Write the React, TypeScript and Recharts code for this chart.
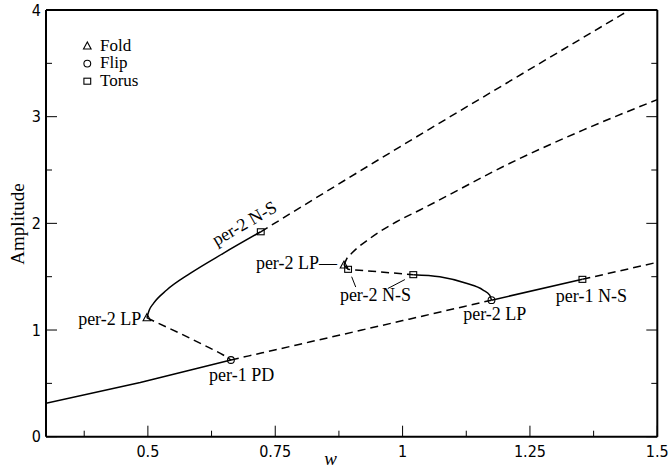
import React from 'react';
import {
  ComposedChart,
  Line,
  Scatter,
  XAxis,
  YAxis,
  ReferenceDot,
  ReferenceLine,
  Legend,
} from 'recharts';

// ---- axes ----
const X_DOMAIN: [number, number] = [0.3, 1.5];
const Y_DOMAIN: [number, number] = [0, 4];
const X_TICKS = [0.375, 0.5, 0.625, 0.75, 0.875, 1, 1.125, 1.25, 1.375, 1.5];
const X_LABELED = [0.5, 0.75, 1, 1.25, 1.5];
const Y_TICKS = [0, 0.5, 1, 1.5, 2, 2.5, 3, 3.5, 4];
const Y_LABELED = [0, 1, 2, 3, 4];

// ---- per-1 branch ----
const per1StableLow = [
  { w: 0.3, a: 0.313 },
  { w: 0.485, a: 0.508 },
  { w: 0.663, a: 0.719 },
];
const per1UnstableMid = [
  { w: 0.663, a: 0.719 },
  { w: 0.92, a: 1.0 },
  { w: 1.1745, a: 1.28 },
];
const per1StableHigh = [
  { w: 1.1745, a: 1.28 },
  { w: 1.353, a: 1.475 },
];
const per1UnstableHigh = [
  { w: 1.353, a: 1.475 },
  { w: 1.5, a: 1.635 },
];

// ---- per-2 branches ----
const per2UnstableLow = [
  { w: 0.498, a: 1.115 },
  { w: 0.514, a: 1.078 },
  { w: 0.563, a: 0.969 },
  { w: 0.616, a: 0.844 },
  { w: 0.648, a: 0.766 },
  { w: 0.663, a: 0.719 },
];
const per2StableLeft = [
  { w: 0.498, a: 1.115 },
  { w: 0.503, a: 1.19 },
  { w: 0.511, a: 1.25 },
  { w: 0.537, a: 1.375 },
  { w: 0.583, a: 1.531 },
  { w: 0.648, a: 1.719 },
  { w: 0.7216, a: 1.921 },
];
const per2UnstableTop = [
  { w: 0.7216, a: 1.921 },
  { w: 0.961, a: 2.62 },
  { w: 1.2235, a: 3.37 },
  { w: 1.4457, a: 4.0 },
];
const per2UnstableUpper = [
  { w: 0.885, a: 1.609 },
  { w: 0.89, a: 1.665 },
  { w: 0.9, a: 1.719 },
  { w: 0.936, a: 1.859 },
  { w: 0.988, a: 2.015 },
  { w: 1.034, a: 2.125 },
  { w: 1.2235, a: 2.593 },
  { w: 1.354, a: 2.874 },
  { w: 1.5, a: 3.16 },
];
const per2UnstableInner = [
  { w: 0.885, a: 1.609 },
  { w: 0.893, a: 1.569 },
  { w: 1.021, a: 1.519 },
];
const per2StableRight = [
  { w: 1.021, a: 1.519 },
  { w: 1.073, a: 1.4995 },
  { w: 1.125, a: 1.438 },
  { w: 1.158, a: 1.375 },
  { w: 1.171, a: 1.327 },
  { w: 1.1745, a: 1.28 },
];

// ---- bifurcation markers ----
const FOLD = [
  { w: 0.498, a: 1.115 },
  { w: 0.885, a: 1.609 },
];
const FLIP = [
  { w: 0.663, a: 0.719 },
  { w: 1.1745, a: 1.28 },
];
const TORUS = [
  { w: 0.7216, a: 1.921 },
  { w: 0.893, a: 1.569 },
  { w: 1.021, a: 1.519 },
  { w: 1.353, a: 1.475 },
];

const LEGEND_ITEMS = [
  { kind: 'fold', label: 'Fold' },
  { kind: 'flip', label: 'Flip' },
  { kind: 'torus', label: 'Torus' },
];

// ---- annotations ----
const ANNOTATIONS = [
  { text: 'per-2 N-S', w: 0.689, a: 2.003, anchor: 'middle', angle: -30 },
  { text: 'per-2 LP', w: 0.487, a: 1.103, anchor: 'end', angle: 0 },
  { text: 'per-1 PD', w: 0.684, a: 0.578, anchor: 'middle', angle: 0 },
  { text: 'per-2 LP\u2014', w: 0.712, a: 1.628, anchor: 'start', angle: 0 },
  { text: 'per-2 N-S', w: 0.9467, a: 1.328, anchor: 'middle', angle: 0 },
  { text: 'per-2 LP', w: 1.181, a: 1.15, anchor: 'middle', angle: 0 },
  { text: 'per-1 N-S', w: 1.3706, a: 1.319, anchor: 'middle', angle: 0 },
];
const LEADERS = [
  [
    { w: 0.9, a: 1.5 },
    { w: 0.908, a: 1.403 },
  ],
  [
    { w: 1.0045, a: 1.473 },
    { w: 0.971, a: 1.389 },
  ],
];

const SERIF = '"Liberation Serif", "Times New Roman", serif';
const SANS = '"DejaVu Sans Condensed", "DejaVu Sans", sans-serif';
const DASH = '8 5';

function Marker({ kind, cx, cy }: { kind: string; cx: number; cy: number }) {
  const common = { stroke: '#000', strokeWidth: 1.1, fill: 'none' };
  if (kind === 'fold') {
    return (
      <polygon
        points={`${cx},${cy - 4} ${cx - 3.8},${cy + 3} ${cx + 3.8},${cy + 3}`}
        {...common}
      />
    );
  }
  if (kind === 'flip') {
    return <circle cx={cx} cy={cy} r={3.4} {...common} />;
  }
  return <rect x={cx - 3.4} y={cy - 3} width={6.8} height={6} {...common} />;
}

const tickLen = (v: number, majors: number[]) => (majors.includes(v) ? 11 : 6);

function makeTick(side: 'bottom' | 'top' | 'left' | 'right') {
  return (props: any) => {
    const { x, y, payload } = props;
    const v = payload.value as number;
    const majors = side === 'bottom' || side === 'top' ? X_LABELED : Y_LABELED;
    const len = tickLen(v, majors);
    const major = majors.includes(v);
    let line;
    if (side === 'bottom') line = <line x1={x} x2={x} y1={y} y2={y - len} />;
    else if (side === 'top') line = <line x1={x} x2={x} y1={y} y2={y + len} />;
    else if (side === 'left') line = <line x1={x} x2={x + len} y1={y} y2={y} />;
    else line = <line x1={x} x2={x - len} y1={y} y2={y} />;
    return (
      <g>
        <g stroke="#000" strokeWidth={1}>{line}</g>
        {major && side === 'bottom' && (
          <text x={x} y={y + 20} textAnchor="middle" fontFamily={SANS} fontSize={16} fill="#000">
            {String(v)}
          </text>
        )}
        {major && side === 'left' && (
          <text x={x - 5} y={y} dy="0.36em" textAnchor="end" fontFamily={SANS} fontSize={16} fill="#000">
            {String(v)}
          </text>
        )}
      </g>
    );
  };
}

function LegendBox() {
  return (
    <svg width={200} height={100} style={{ display: 'block' }}>
      {LEGEND_ITEMS.map((item, i) => (
        <g key={item.kind}>
          <Marker kind={item.kind} cx={87.3} cy={46 + i * 17.6} />
          <text x={100} y={51 + i * 17.4} fontFamily={SERIF} fontSize={17} fill="#000">
            {item.label}
          </text>
        </g>
      ))}
    </svg>
  );
}

const lineProps = {
  dataKey: 'a',
  stroke: '#000',
  strokeWidth: 1.5,
  dot: false,
  activeDot: false,
  isAnimationActive: false,
  legendType: 'none' as const,
};

const axisLine = { stroke: '#000', strokeWidth: 2 };

export default function App() {
  return (
    <div style={{ position: 'absolute', left: 0, top: 0, width: 670, height: 468, background: '#fff' }}>
      <ComposedChart width={670} height={468} margin={{ top: 0, right: 0, bottom: 0, left: 0 }}>
        <XAxis
          dataKey="w"
          type="number"
          domain={X_DOMAIN}
          ticks={X_TICKS}
          interval={0}
          allowDataOverflow
          height={31.3}
          tickSize={0}
          tickMargin={0}
          tickLine={false}
          axisLine={axisLine}
          tick={makeTick('bottom')}
          label={{
            content: (p: any) => {
              const vb = p.viewBox || {};
              return (
                <text
                  x={vb.x + vb.width / 2 - 21}
                  y={465}
                  textAnchor="middle"
                  fontFamily={SERIF}
                  fontStyle="italic"
                  fontSize={19}
                  fill="#000"
                >
                  w
                </text>
              );
            },
          }}
        />
        <XAxis
          xAxisId="top"
          orientation="top"
          type="number"
          domain={X_DOMAIN}
          ticks={X_TICKS}
          interval={0}
          allowDataOverflow
          height={10}
          tickSize={0}
          tickMargin={0}
          tickLine={false}
          axisLine={axisLine}
          tick={makeTick('top')}
        />
        <YAxis
          type="number"
          domain={Y_DOMAIN}
          ticks={Y_TICKS}
          interval={0}
          allowDataOverflow
          width={46}
          tickSize={0}
          tickMargin={0}
          tickLine={false}
          axisLine={axisLine}
          tick={makeTick('left')}
          label={{
            content: (p: any) => {
              const cx = 17;
              const cy = 224;
              return (
                <text
                  x={cx}
                  y={cy}
                  transform={`rotate(-90, ${cx}, ${cy})`}
                  textAnchor="middle"
                  dy="0.35em"
                  fontFamily={SERIF}
                  fontSize={19}
                  fill="#000"
                >
                  Amplitude
                </text>
              );
            },
          }}
        />
        <YAxis
          yAxisId="right"
          orientation="right"
          type="number"
          domain={Y_DOMAIN}
          ticks={Y_TICKS}
          interval={0}
          allowDataOverflow
          width={12.7}
          tickSize={0}
          tickMargin={0}
          tickLine={false}
          axisLine={axisLine}
          tick={makeTick('right')}
        />

        <Line {...lineProps} data={per1StableLow} type="linear" />
        <Line {...lineProps} data={per1UnstableMid} type="monotone" strokeDasharray={DASH} />
        <Line {...lineProps} data={per1StableHigh} type="linear" />
        <Line {...lineProps} data={per1UnstableHigh} type="linear" strokeDasharray={DASH} />

        <Line {...lineProps} data={per2UnstableLow} type="monotone" strokeDasharray={DASH} />
        <Line {...lineProps} data={per2StableLeft} type="monotone" />
        <Line {...lineProps} data={per2UnstableTop} type="monotone" strokeDasharray={DASH} />
        <Line {...lineProps} data={per2UnstableUpper} type="monotone" strokeDasharray={DASH} />
        <Line {...lineProps} data={per2UnstableInner} type="linear" strokeDasharray={DASH} />
        <Line {...lineProps} data={per2StableRight} type="monotone" />

        <Scatter
          data={FOLD}
          dataKey="a"
          isAnimationActive={false}
          legendType="none"
          shape={(p: any) => <Marker kind="fold" cx={p.cx} cy={p.cy} />}
        />
        <Scatter
          data={FLIP}
          dataKey="a"
          isAnimationActive={false}
          legendType="none"
          shape={(p: any) => <Marker kind="flip" cx={p.cx} cy={p.cy} />}
        />
        <Scatter
          data={TORUS}
          dataKey="a"
          isAnimationActive={false}
          legendType="none"
          shape={(p: any) => <Marker kind="torus" cx={p.cx} cy={p.cy} />}
        />

        {LEADERS.map((seg, i) => (
          <ReferenceLine
            key={`leader-${i}`}
            segment={[
              { x: seg[0].w, y: seg[0].a },
              { x: seg[1].w, y: seg[1].a },
            ]}
            stroke="#000"
            strokeWidth={1}
          />
        ))}

        {ANNOTATIONS.map((an, i) => (
          <ReferenceDot
            key={`ann-${i}`}
            x={an.w}
            y={an.a}
            r={0}
            shape={(p: any) => (
              <text
                x={p.cx}
                y={p.cy}
                dy="0.35em"
                textAnchor={an.anchor}
                transform={an.angle ? `rotate(${an.angle}, ${p.cx}, ${p.cy})` : undefined}
                fontFamily={SERIF}
                fontSize={18}
                fill="#000"
              >
                {an.text}
              </text>
            )}
          />
        ))}

        <Legend
          layout="vertical"
          align="center"
          verticalAlign="middle"
          wrapperStyle={{ position: 'absolute', left: 0, top: 0, width: 200, height: 100 }}
          content={() => <LegendBox />}
        />
      </ComposedChart>
    </div>
  );
}
